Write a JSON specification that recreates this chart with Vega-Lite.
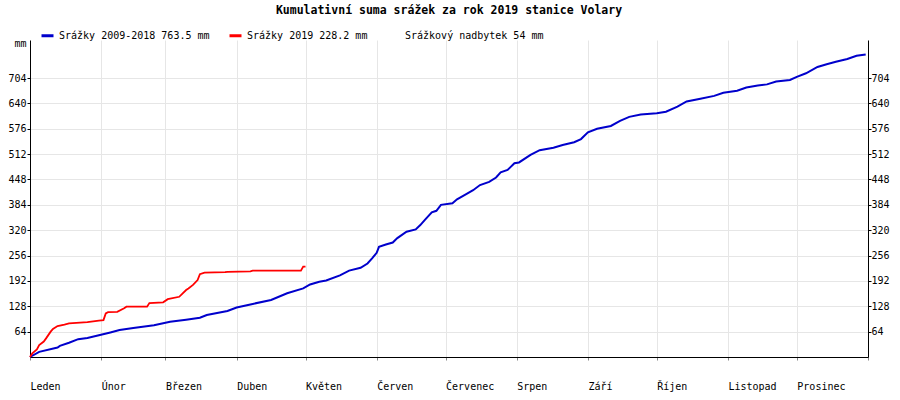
{
  "$schema": "https://vega.github.io/schema/vega-lite/v6.json",
  "width": 838,
  "height": 317,
  "autosize": {"type": "none"},
  "padding": {"left": 30, "top": 40, "right": 32, "bottom": 43},
  "background": "white",
  "config": {"view": {"stroke": null}},
  "title": {
    "text": "Kumulativní suma srážek za rok 2019 stanice Volary",
    "font": "DejaVu Sans Mono",
    "fontSize": 11.5,
    "fontWeight": "bold",
    "color": "black",
    "anchor": "middle",
    "offset": 12
  },
  "data": {
    "values": [
      {"date": "2019-01-01", "mm": 0, "series": "Srážky 2009-2018 763.5 mm"},
      {"date": "2019-01-05", "mm": 13, "series": "Srážky 2009-2018 763.5 mm"},
      {"date": "2019-01-13", "mm": 24, "series": "Srážky 2009-2018 763.5 mm"},
      {"date": "2019-01-14", "mm": 28, "series": "Srážky 2009-2018 763.5 mm"},
      {"date": "2019-01-18", "mm": 36, "series": "Srážky 2009-2018 763.5 mm"},
      {"date": "2019-01-22", "mm": 45, "series": "Srážky 2009-2018 763.5 mm"},
      {"date": "2019-01-26", "mm": 48, "series": "Srážky 2009-2018 763.5 mm"},
      {"date": "2019-01-31", "mm": 55, "series": "Srážky 2009-2018 763.5 mm"},
      {"date": "2019-02-05", "mm": 62, "series": "Srážky 2009-2018 763.5 mm"},
      {"date": "2019-02-09", "mm": 68, "series": "Srážky 2009-2018 763.5 mm"},
      {"date": "2019-02-15", "mm": 73, "series": "Srážky 2009-2018 763.5 mm"},
      {"date": "2019-02-24", "mm": 80, "series": "Srážky 2009-2018 763.5 mm"},
      {"date": "2019-03-03", "mm": 89, "series": "Srážky 2009-2018 763.5 mm"},
      {"date": "2019-03-10", "mm": 94, "series": "Srážky 2009-2018 763.5 mm"},
      {"date": "2019-03-16", "mm": 99, "series": "Srážky 2009-2018 763.5 mm"},
      {"date": "2019-03-19", "mm": 106, "series": "Srážky 2009-2018 763.5 mm"},
      {"date": "2019-03-28", "mm": 116, "series": "Srážky 2009-2018 763.5 mm"},
      {"date": "2019-04-01", "mm": 125, "series": "Srážky 2009-2018 763.5 mm"},
      {"date": "2019-04-08", "mm": 134, "series": "Srážky 2009-2018 763.5 mm"},
      {"date": "2019-04-16", "mm": 144, "series": "Srážky 2009-2018 763.5 mm"},
      {"date": "2019-04-23", "mm": 161, "series": "Srážky 2009-2018 763.5 mm"},
      {"date": "2019-04-30", "mm": 173, "series": "Srážky 2009-2018 763.5 mm"},
      {"date": "2019-05-03", "mm": 183, "series": "Srážky 2009-2018 763.5 mm"},
      {"date": "2019-05-07", "mm": 190, "series": "Srážky 2009-2018 763.5 mm"},
      {"date": "2019-05-10", "mm": 193, "series": "Srážky 2009-2018 763.5 mm"},
      {"date": "2019-05-16", "mm": 206, "series": "Srážky 2009-2018 763.5 mm"},
      {"date": "2019-05-20", "mm": 218, "series": "Srážky 2009-2018 763.5 mm"},
      {"date": "2019-05-25", "mm": 225, "series": "Srážky 2009-2018 763.5 mm"},
      {"date": "2019-05-28", "mm": 236, "series": "Srážky 2009-2018 763.5 mm"},
      {"date": "2019-05-30", "mm": 249, "series": "Srážky 2009-2018 763.5 mm"},
      {"date": "2019-06-01", "mm": 263, "series": "Srážky 2009-2018 763.5 mm"},
      {"date": "2019-06-02", "mm": 278, "series": "Srážky 2009-2018 763.5 mm"},
      {"date": "2019-06-05", "mm": 284, "series": "Srážky 2009-2018 763.5 mm"},
      {"date": "2019-06-08", "mm": 289, "series": "Srážky 2009-2018 763.5 mm"},
      {"date": "2019-06-10", "mm": 300, "series": "Srážky 2009-2018 763.5 mm"},
      {"date": "2019-06-14", "mm": 316, "series": "Srážky 2009-2018 763.5 mm"},
      {"date": "2019-06-18", "mm": 322, "series": "Srážky 2009-2018 763.5 mm"},
      {"date": "2019-06-20", "mm": 333, "series": "Srážky 2009-2018 763.5 mm"},
      {"date": "2019-06-22", "mm": 346, "series": "Srážky 2009-2018 763.5 mm"},
      {"date": "2019-06-25", "mm": 365, "series": "Srážky 2009-2018 763.5 mm"},
      {"date": "2019-06-27", "mm": 369, "series": "Srážky 2009-2018 763.5 mm"},
      {"date": "2019-06-29", "mm": 384, "series": "Srážky 2009-2018 763.5 mm"},
      {"date": "2019-07-04", "mm": 388, "series": "Srážky 2009-2018 763.5 mm"},
      {"date": "2019-07-06", "mm": 398, "series": "Srážky 2009-2018 763.5 mm"},
      {"date": "2019-07-10", "mm": 411, "series": "Srážky 2009-2018 763.5 mm"},
      {"date": "2019-07-13", "mm": 421, "series": "Srážky 2009-2018 763.5 mm"},
      {"date": "2019-07-16", "mm": 434, "series": "Srážky 2009-2018 763.5 mm"},
      {"date": "2019-07-20", "mm": 442, "series": "Srážky 2009-2018 763.5 mm"},
      {"date": "2019-07-23", "mm": 453, "series": "Srážky 2009-2018 763.5 mm"},
      {"date": "2019-07-25", "mm": 466, "series": "Srážky 2009-2018 763.5 mm"},
      {"date": "2019-07-28", "mm": 472, "series": "Srážky 2009-2018 763.5 mm"},
      {"date": "2019-07-31", "mm": 489, "series": "Srážky 2009-2018 763.5 mm"},
      {"date": "2019-08-02", "mm": 491, "series": "Srážky 2009-2018 763.5 mm"},
      {"date": "2019-08-07", "mm": 510, "series": "Srážky 2009-2018 763.5 mm"},
      {"date": "2019-08-11", "mm": 522, "series": "Srážky 2009-2018 763.5 mm"},
      {"date": "2019-08-17", "mm": 528, "series": "Srážky 2009-2018 763.5 mm"},
      {"date": "2019-08-21", "mm": 535, "series": "Srážky 2009-2018 763.5 mm"},
      {"date": "2019-08-26", "mm": 542, "series": "Srážky 2009-2018 763.5 mm"},
      {"date": "2019-08-29", "mm": 550, "series": "Srážky 2009-2018 763.5 mm"},
      {"date": "2019-09-01", "mm": 567, "series": "Srážky 2009-2018 763.5 mm"},
      {"date": "2019-09-05", "mm": 576, "series": "Srážky 2009-2018 763.5 mm"},
      {"date": "2019-09-11", "mm": 583, "series": "Srážky 2009-2018 763.5 mm"},
      {"date": "2019-09-15", "mm": 596, "series": "Srážky 2009-2018 763.5 mm"},
      {"date": "2019-09-19", "mm": 606, "series": "Srážky 2009-2018 763.5 mm"},
      {"date": "2019-09-24", "mm": 612, "series": "Srážky 2009-2018 763.5 mm"},
      {"date": "2019-10-01", "mm": 615, "series": "Srážky 2009-2018 763.5 mm"},
      {"date": "2019-10-05", "mm": 619, "series": "Srážky 2009-2018 763.5 mm"},
      {"date": "2019-10-10", "mm": 632, "series": "Srážky 2009-2018 763.5 mm"},
      {"date": "2019-10-14", "mm": 645, "series": "Srážky 2009-2018 763.5 mm"},
      {"date": "2019-10-20", "mm": 652, "series": "Srážky 2009-2018 763.5 mm"},
      {"date": "2019-10-26", "mm": 659, "series": "Srážky 2009-2018 763.5 mm"},
      {"date": "2019-10-30", "mm": 667, "series": "Srážky 2009-2018 763.5 mm"},
      {"date": "2019-11-05", "mm": 672, "series": "Srážky 2009-2018 763.5 mm"},
      {"date": "2019-11-09", "mm": 680, "series": "Srážky 2009-2018 763.5 mm"},
      {"date": "2019-11-14", "mm": 685, "series": "Srážky 2009-2018 763.5 mm"},
      {"date": "2019-11-18", "mm": 688, "series": "Srážky 2009-2018 763.5 mm"},
      {"date": "2019-11-22", "mm": 695, "series": "Srážky 2009-2018 763.5 mm"},
      {"date": "2019-11-28", "mm": 699, "series": "Srážky 2009-2018 763.5 mm"},
      {"date": "2019-12-01", "mm": 707, "series": "Srážky 2009-2018 763.5 mm"},
      {"date": "2019-12-05", "mm": 716, "series": "Srážky 2009-2018 763.5 mm"},
      {"date": "2019-12-10", "mm": 732, "series": "Srážky 2009-2018 763.5 mm"},
      {"date": "2019-12-14", "mm": 739, "series": "Srážky 2009-2018 763.5 mm"},
      {"date": "2019-12-18", "mm": 745, "series": "Srážky 2009-2018 763.5 mm"},
      {"date": "2019-12-23", "mm": 752, "series": "Srážky 2009-2018 763.5 mm"},
      {"date": "2019-12-27", "mm": 760, "series": "Srážky 2009-2018 763.5 mm"},
      {"date": "2019-12-31", "mm": 763.5, "series": "Srážky 2009-2018 763.5 mm"},
      {"date": "2019-01-01", "mm": 0, "series": "Srážky 2019 228.2 mm"},
      {"date": "2019-01-02", "mm": 9, "series": "Srážky 2019 228.2 mm"},
      {"date": "2019-01-04", "mm": 19, "series": "Srážky 2019 228.2 mm"},
      {"date": "2019-01-05", "mm": 30, "series": "Srážky 2019 228.2 mm"},
      {"date": "2019-01-07", "mm": 39, "series": "Srážky 2019 228.2 mm"},
      {"date": "2019-01-08", "mm": 47, "series": "Srážky 2019 228.2 mm"},
      {"date": "2019-01-10", "mm": 64, "series": "Srážky 2019 228.2 mm"},
      {"date": "2019-01-11", "mm": 71, "series": "Srážky 2019 228.2 mm"},
      {"date": "2019-01-13", "mm": 78, "series": "Srážky 2019 228.2 mm"},
      {"date": "2019-01-16", "mm": 82, "series": "Srážky 2019 228.2 mm"},
      {"date": "2019-01-18", "mm": 85, "series": "Srážky 2019 228.2 mm"},
      {"date": "2019-01-26", "mm": 88, "series": "Srážky 2019 228.2 mm"},
      {"date": "2019-01-31", "mm": 92, "series": "Srážky 2019 228.2 mm"},
      {"date": "2019-02-02", "mm": 93, "series": "Srážky 2019 228.2 mm"},
      {"date": "2019-02-03", "mm": 110, "series": "Srážky 2019 228.2 mm"},
      {"date": "2019-02-04", "mm": 113, "series": "Srážky 2019 228.2 mm"},
      {"date": "2019-02-08", "mm": 114, "series": "Srážky 2019 228.2 mm"},
      {"date": "2019-02-11", "mm": 123, "series": "Srážky 2019 228.2 mm"},
      {"date": "2019-02-12", "mm": 127, "series": "Srážky 2019 228.2 mm"},
      {"date": "2019-02-21", "mm": 127, "series": "Srážky 2019 228.2 mm"},
      {"date": "2019-02-22", "mm": 136, "series": "Srážky 2019 228.2 mm"},
      {"date": "2019-02-28", "mm": 138, "series": "Srážky 2019 228.2 mm"},
      {"date": "2019-03-02", "mm": 146, "series": "Srážky 2019 228.2 mm"},
      {"date": "2019-03-07", "mm": 152, "series": "Srážky 2019 228.2 mm"},
      {"date": "2019-03-10", "mm": 169, "series": "Srážky 2019 228.2 mm"},
      {"date": "2019-03-11", "mm": 173, "series": "Srážky 2019 228.2 mm"},
      {"date": "2019-03-13", "mm": 182, "series": "Srážky 2019 228.2 mm"},
      {"date": "2019-03-15", "mm": 194, "series": "Srážky 2019 228.2 mm"},
      {"date": "2019-03-16", "mm": 209, "series": "Srážky 2019 228.2 mm"},
      {"date": "2019-03-18", "mm": 213, "series": "Srážky 2019 228.2 mm"},
      {"date": "2019-03-27", "mm": 214, "series": "Srážky 2019 228.2 mm"},
      {"date": "2019-03-28", "mm": 215, "series": "Srážky 2019 228.2 mm"},
      {"date": "2019-04-07", "mm": 216, "series": "Srážky 2019 228.2 mm"},
      {"date": "2019-04-08", "mm": 218, "series": "Srážky 2019 228.2 mm"},
      {"date": "2019-04-29", "mm": 218, "series": "Srážky 2019 228.2 mm"},
      {"date": "2019-04-30", "mm": 228, "series": "Srážky 2019 228.2 mm"},
      {"date": "2019-05-01", "mm": 228.2, "series": "Srážky 2019 228.2 mm"}
    ]
  },
  "encoding": {
    "x": {
      "field": "date",
      "type": "temporal",
      "scale": {
        "type": "utc",
        "domain": [
          {"year": 2019, "month": 1, "date": 1, "utc": true},
          {"year": 2020, "month": 1, "date": 1, "utc": true}
        ]
      },
      "axis": {
        "title": null,
        "values": [
          {"year": 2019, "month": 1, "date": 1, "utc": true},
          {"year": 2019, "month": 2, "date": 1, "utc": true},
          {"year": 2019, "month": 3, "date": 1, "utc": true},
          {"year": 2019, "month": 4, "date": 1, "utc": true},
          {"year": 2019, "month": 5, "date": 1, "utc": true},
          {"year": 2019, "month": 6, "date": 1, "utc": true},
          {"year": 2019, "month": 7, "date": 1, "utc": true},
          {"year": 2019, "month": 8, "date": 1, "utc": true},
          {"year": 2019, "month": 9, "date": 1, "utc": true},
          {"year": 2019, "month": 10, "date": 1, "utc": true},
          {"year": 2019, "month": 11, "date": 1, "utc": true},
          {"year": 2019, "month": 12, "date": 1, "utc": true},
          {"year": 2020, "month": 1, "date": 1, "utc": true}
        ],
        "labelExpr": "utcyear(datum.value) > 2019 ? '' : ['Leden','Únor','Březen','Duben','Květen','Červen','Červenec','Srpen','Září','Říjen','Listopad','Prosinec'][utcmonth(datum.value)]",
        "labelAlign": "left",
        "labelPadding": 21,
        "labelFont": "DejaVu Sans Mono",
        "labelFontSize": 10,
        "labelColor": "black",
        "labelOverlap": false,
        "labelFlush": false,
        "tickSize": 3,
        "tickColor": "#888888",
        "domainColor": "black",
        "gridColor": "#e6e6e6",
        "grid": true
      }
    },
    "y": {
      "field": "mm",
      "type": "quantitative",
      "scale": {"domain": [0, 800], "nice": false, "zero": true}
    },
    "color": {
      "field": "series",
      "type": "nominal",
      "scale": {
        "domain": ["Srážky 2009-2018 763.5 mm", "Srážky 2019 228.2 mm", "Srážkový nadbytek 54 mm"],
        "range": ["#0000cc", "#ff0000", "#ffffff"]
      },
      "legend": {
        "orient": "none",
        "legendX": 10,
        "legendY": -12,
        "direction": "horizontal",
        "title": null,
        "symbolType": "stroke",
        "symbolStrokeWidth": 3,
        "symbolSize": 144,
        "labelFont": "DejaVu Sans Mono",
        "labelFontSize": 10,
        "labelColor": "black",
        "labelOffset": 4,
        "columnPadding": 13
      }
    }
  },
  "layer": [
    {
      "transform": [{"filter": "datum.series === 'Srážky 2009-2018 763.5 mm'"}],
      "mark": {"type": "line", "strokeWidth": 2},
      "encoding": {
        "y": {
          "field": "mm",
          "type": "quantitative",
          "scale": {"domain": [0, 800], "nice": false, "zero": true},
          "axis": {
            "orient": "left",
            "title": "mm",
            "titleAngle": 0,
            "titleX": -4,
            "titleY": 3,
            "titleAlign": "right",
            "titleBaseline": "middle",
            "titleFont": "DejaVu Sans Mono",
            "titleFontSize": 10,
            "titleFontWeight": "normal",
            "titleColor": "black",
            "values": [64, 128, 192, 256, 320, 384, 448, 512, 576, 640, 704],
            "labelFont": "DejaVu Sans Mono",
            "labelFontSize": 10,
            "labelColor": "black",
            "labelPadding": 1,
            "tickSize": 3,
            "tickColor": "black",
            "domainColor": "black",
            "grid": true,
            "gridColor": "#e6e6e6"
          }
        }
      }
    },
    {
      "transform": [{"filter": "datum.series === 'Srážky 2019 228.2 mm'"}],
      "mark": {"type": "line", "strokeWidth": 1.8},
      "encoding": {
        "y": {
          "field": "mm",
          "type": "quantitative",
          "scale": {"domain": [0, 800], "nice": false, "zero": true},
          "axis": {
            "orient": "right",
            "title": null,
            "values": [64, 128, 192, 256, 320, 384, 448, 512, 576, 640, 704],
            "labelFont": "DejaVu Sans Mono",
            "labelFontSize": 10,
            "labelColor": "black",
            "labelPadding": 0,
            "tickSize": 3,
            "tickColor": "black",
            "domainColor": "black",
            "grid": false
          }
        }
      }
    }
  ],
  "resolve": {"axis": {"y": "independent"}}
}
